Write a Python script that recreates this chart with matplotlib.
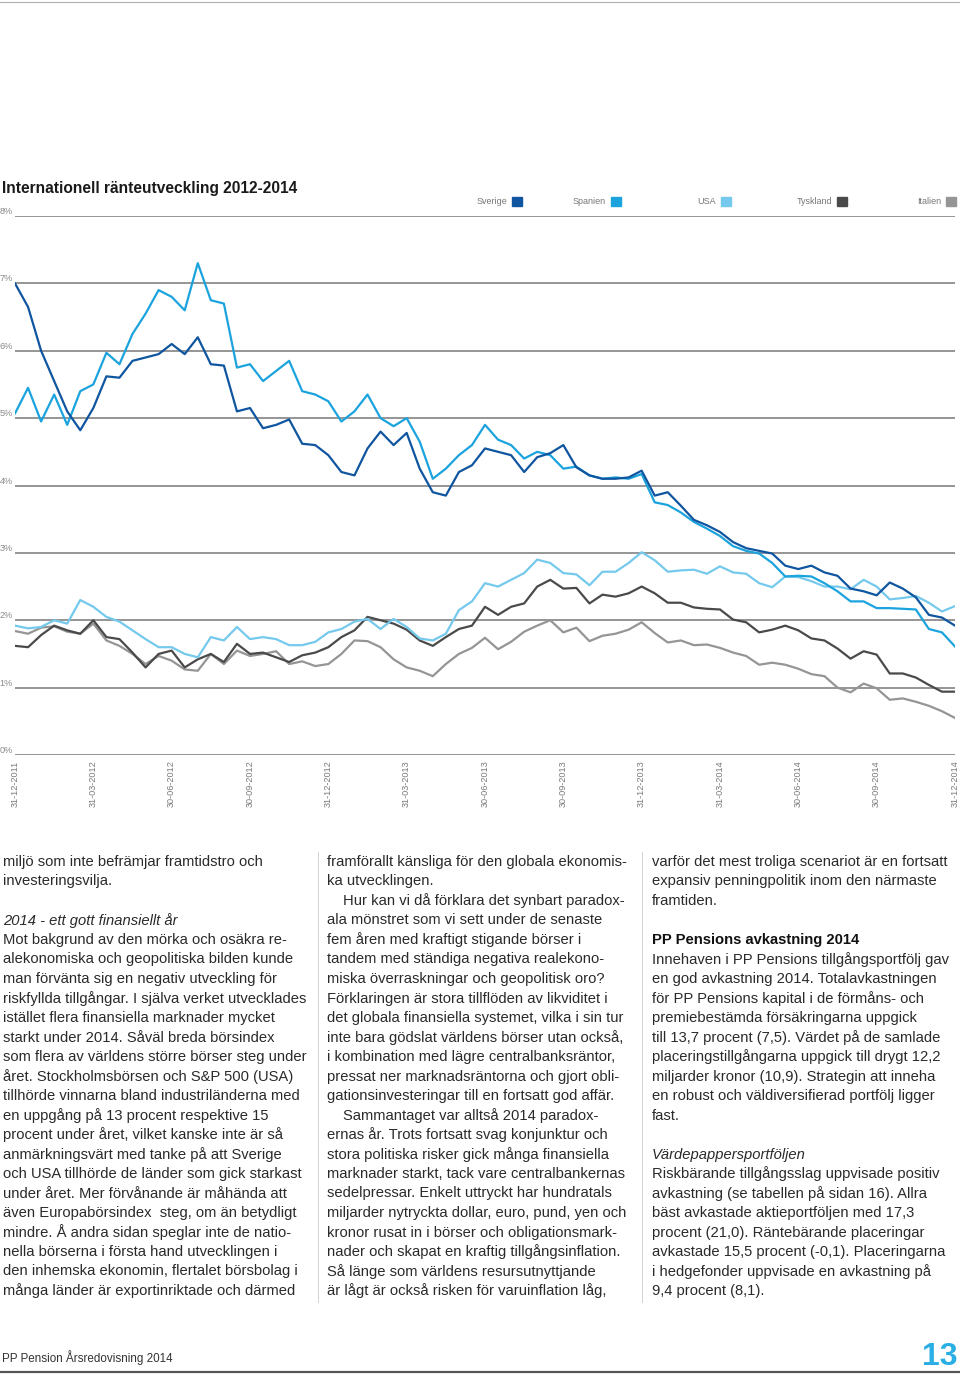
import numpy as np
import matplotlib
matplotlib.use('Agg')
import matplotlib.pyplot as plt
from matplotlib.patches import Rectangle
from matplotlib.lines import Line2D

W, H = 960, 1375

title = 'Internationell ränteutveckling 2012-2014'
names = ['Sverige', 'Spanien', 'USA', 'Tyskland', 'Italien']
colors = ['#0f559f', '#1ba3de', '#74c9ec', '#4a4a4a', '#959595']
quarter_labels = ['31-12-2011', '31-03-2012', '30-06-2012', '30-09-2012', '31-12-2012',
                  '31-03-2013', '30-06-2013', '30-09-2013', '31-12-2013', '31-03-2014',
                  '30-06-2014', '30-09-2014', '31-12-2014']
y_labels = ['0%', '1%', '2%', '3%', '4%', '5%', '6%', '7%', '8%']

# half-month steps from 31-12-2011 to 31-12-2014
months = np.arange(73) * 0.5

sverige = [7.0, 6.65, 6.0, 5.55, 5.1, 4.82, 5.15, 5.62, 5.6, 5.85, 5.9, 5.95,
           6.1, 5.95, 6.2, 5.8, 5.78, 5.1, 5.15, 4.85, 4.9, 4.98, 4.62, 4.6,
           4.45, 4.2, 4.15, 4.55, 4.8, 4.6, 4.78, 4.25, 3.9, 3.85, 4.2, 4.3,
           4.55, 4.5, 4.45, 4.2, 4.42, 4.48, 4.6, 4.27, 4.15, 4.1, 4.1, 4.12,
           4.22, 3.85, 3.9, 3.7, 3.49, 3.41, 3.31, 3.16, 3.07, 3.03, 2.99, 2.81,
           2.76, 2.81, 2.71, 2.66, 2.47, 2.43, 2.37, 2.56, 2.47, 2.34, 2.08, 2.04,
           1.92]
spanien = [5.07, 5.45, 4.95, 5.35, 4.9, 5.4, 5.5, 5.97, 5.8, 6.25, 6.55, 6.9,
           6.8, 6.6, 7.3, 6.75, 6.7, 5.75, 5.8, 5.55, 5.7, 5.85, 5.4, 5.35,
           5.25, 4.95, 5.1, 5.35, 5.0, 4.88, 5.0, 4.65, 4.1, 4.25, 4.45, 4.6,
           4.9, 4.68, 4.6, 4.4, 4.5, 4.45, 4.25, 4.28, 4.15, 4.1, 4.12, 4.1,
           4.17, 3.75, 3.71, 3.6, 3.46, 3.36, 3.25, 3.1, 3.03, 2.99, 2.85, 2.65,
           2.66, 2.65, 2.55, 2.43, 2.28, 2.28, 2.18, 2.18, 2.17, 2.16, 1.87, 1.82,
           1.61]
usa = [1.92, 1.88, 1.9, 2.0, 1.95, 2.3, 2.2, 2.05, 1.98, 1.85, 1.72, 1.6,
       1.6, 1.5, 1.45, 1.75, 1.7, 1.9, 1.72, 1.75, 1.72, 1.63, 1.63, 1.68,
       1.82, 1.87, 1.98, 2.02, 1.87, 2.02, 1.9, 1.73, 1.7, 1.8, 2.15, 2.28,
       2.55, 2.5, 2.6, 2.7, 2.9, 2.85, 2.7, 2.68, 2.52, 2.72, 2.72, 2.85,
       3.01, 2.89, 2.72, 2.74, 2.75, 2.69, 2.8, 2.71, 2.69, 2.55, 2.49, 2.65,
       2.64, 2.58, 2.5, 2.5, 2.46, 2.6, 2.5, 2.31, 2.33, 2.36, 2.26, 2.13,
       2.21]
tyskland = [1.62, 1.6, 1.78, 1.92, 1.85, 1.8, 2.0, 1.75, 1.72, 1.52, 1.3, 1.5,
            1.55, 1.3, 1.42, 1.5, 1.38, 1.65, 1.5, 1.52, 1.45, 1.38, 1.48, 1.52,
            1.6, 1.75, 1.85, 2.05, 2.0, 1.95, 1.86, 1.7, 1.62, 1.75, 1.87, 1.92,
            2.2, 2.08, 2.2, 2.25, 2.5, 2.6, 2.47, 2.48, 2.25, 2.38, 2.35, 2.4,
            2.5, 2.4, 2.26, 2.26, 2.19, 2.17, 2.16, 2.01, 1.97, 1.82, 1.86, 1.92,
            1.85, 1.73, 1.7, 1.58, 1.43, 1.54, 1.49, 1.21, 1.21, 1.15, 1.04, 0.94,
            0.94]
italien = [1.84, 1.8, 1.89, 1.91, 1.83, 1.8, 1.95, 1.7, 1.62, 1.5, 1.35, 1.47,
           1.4, 1.27, 1.25, 1.5, 1.35, 1.55, 1.47, 1.5, 1.54, 1.35, 1.39, 1.32,
           1.35, 1.5, 1.7, 1.69, 1.6, 1.42, 1.3, 1.25, 1.17, 1.35, 1.5, 1.59,
           1.74, 1.57, 1.68, 1.83, 1.92, 2.0, 1.82, 1.89, 1.69, 1.77, 1.8, 1.86,
           1.97, 1.81, 1.67, 1.7, 1.63, 1.64, 1.59, 1.52, 1.47, 1.34, 1.37, 1.34,
           1.28, 1.2, 1.17, 1.0, 0.93, 1.06, 0.99, 0.82, 0.84, 0.79, 0.73, 0.65,
           0.55]
series = [sverige, spanien, usa, tyskland, italien]

col1 = [
    ('miljö som inte befrämjar framtidstro och', ''),
    ('investeringsvilja.', ''),
    ('', ''),
    ('2014 - ett gott finansiellt år', 'i'),
    ('Mot bakgrund av den mörka och osäkra re-', ''),
    ('alekonomiska och geopolitiska bilden kunde', ''),
    ('man förvänta sig en negativ utveckling för', ''),
    ('riskfyllda tillgångar. I själva verket utvecklades', ''),
    ('istället flera finansiella marknader mycket', ''),
    ('starkt under 2014. Såväl breda börsindex', ''),
    ('som flera av världens större börser steg under', ''),
    ('året. Stockholmsbörsen och S&P 500 (USA)', ''),
    ('tillhörde vinnarna bland industriländerna med', ''),
    ('en uppgång på 13 procent respektive 15', ''),
    ('procent under året, vilket kanske inte är så', ''),
    ('anmärkningsvärt med tanke på att Sverige', ''),
    ('och USA tillhörde de länder som gick starkast', ''),
    ('under året. Mer förvånande är måhända att', ''),
    ('även Europabörsindex  steg, om än betydligt', ''),
    ('mindre. Å andra sidan speglar inte de natio-', ''),
    ('nella börserna i första hand utvecklingen i', ''),
    ('den inhemska ekonomin, flertalet börsbolag i', ''),
    ('många länder är exportinriktade och därmed', ''),
]
col2 = [
    ('framförallt känsliga för den globala ekonomis-', ''),
    ('ka utvecklingen.', ''),
    ('Hur kan vi då förklara det synbart paradox-', 'n'),
    ('ala mönstret som vi sett under de senaste', ''),
    ('fem åren med kraftigt stigande börser i', ''),
    ('tandem med ständiga negativa realekono-', ''),
    ('miska överraskningar och geopolitisk oro?', ''),
    ('Förklaringen är stora tillflöden av likviditet i', ''),
    ('det globala finansiella systemet, vilka i sin tur', ''),
    ('inte bara gödslat världens börser utan också,', ''),
    ('i kombination med lägre centralbanksräntor,', ''),
    ('pressat ner marknadsräntorna och gjort obli-', ''),
    ('gationsinvesteringar till en fortsatt god affär.', ''),
    ('Sammantaget var alltså 2014 paradox-', 'n'),
    ('ernas år. Trots fortsatt svag konjunktur och', ''),
    ('stora politiska risker gick många finansiella', ''),
    ('marknader starkt, tack vare centralbankernas', ''),
    ('sedelpressar. Enkelt uttryckt har hundratals', ''),
    ('miljarder nytryckta dollar, euro, pund, yen och', ''),
    ('kronor rusat in i börser och obligationsmark-', ''),
    ('nader och skapat en kraftig tillgångsinflation.', ''),
    ('Så länge som världens resursutnyttjande', ''),
    ('är lågt är också risken för varuinflation låg,', ''),
]
col3 = [
    ('varför det mest troliga scenariot är en fortsatt', ''),
    ('expansiv penningpolitik inom den närmaste', ''),
    ('framtiden.', ''),
    ('', ''),
    ('PP Pensions avkastning 2014', 'b'),
    ('Innehaven i PP Pensions tillgångsportfölj gav', ''),
    ('en god avkastning 2014. Totalavkastningen', ''),
    ('för PP Pensions kapital i de förmåns- och', ''),
    ('premiebestämda försäkringarna uppgick', ''),
    ('till 13,7 procent (7,5). Värdet på de samlade', ''),
    ('placeringstillgångarna uppgick till drygt 12,2', ''),
    ('miljarder kronor (10,9). Strategin att inneha', ''),
    ('en robust och väldiversifierad portfölj ligger', ''),
    ('fast.', ''),
    ('', ''),
    ('Värdepappersportföljen', 'i'),
    ('Riskbärande tillgångsslag uppvisade positiv', ''),
    ('avkastning (se tabellen på sidan 16). Allra', ''),
    ('bäst avkastade aktieportföljen med 17,3', ''),
    ('procent (21,0). Räntebärande placeringar', ''),
    ('avkastade 15,5 procent (-0,1). Placeringarna', ''),
    ('i hedgefonder uppvisade en avkastning på', ''),
    ('9,4 procent (8,1).', ''),
]

plt.rcParams['font.family'] = ['Liberation Sans', 'DejaVu Sans']

fig = plt.figure(figsize=(W / 100, H / 100), dpi=100)


def fx(px):
    return px / W


def fy(py):
    return 1 - py / H


# chart
ax = fig.add_axes([fx(15), fy(755), fx(940), (755 - 216) / H])
ax.set_xlim(0, 36)
ax.set_ylim(0, 8)
for s in ax.spines.values():
    s.set_visible(False)
ax.set_yticks(range(9))
ax.set_yticklabels([])
ax.tick_params(length=0)
ax.grid(axis='y', color='#8c8c8c', lw=1.3)
ax.set_axisbelow(True)
ax.set_xticks(np.arange(0, 37, 3))
ax.set_xticklabels(quarter_labels, rotation=90, fontsize=6.6, color='#7a7a7a',
                   va='top', ha='center')
ax.tick_params(axis='x', pad=4)

for i, lab in enumerate(y_labels):
    ax.text(-0.002, i, lab, transform=ax.get_yaxis_transform(), ha='right',
            va='bottom', fontsize=6.6, color='#8a8a8a')

for k in [4, 3, 2, 1, 0]:
    ax.plot(months, series[k], color=colors[k], lw=1.6, solid_joinstyle='round')

# title and legend
fig.text(fx(2), fy(188), title, fontsize=11.2, fontweight='bold', color='#1a1a1a',
         va='center', ha='left')
square_right = [522, 621, 731, 847, 956]
for name, col, xr in zip(names, colors, square_right):
    fig.patches.append(Rectangle((fx(xr - 10), fy(206)), 10 / W, 9 / H,
                                 transform=fig.transFigure, color=col))
    fig.text(fx(xr - 15), fy(202), name, fontsize=6.5, color='#777777',
             ha='right', va='center')

# top rule
fig.add_artist(Line2D([0, 1], [fy(2), fy(2)], color='#b0b0b0', lw=0.8))

# body text
body_size = 10.6
col_x = [3, 327, 652]
for cx, col in zip(col_x, [col1, col2, col3]):
    for j, (line, st) in enumerate(col):
        if not line:
            continue
        y = 862 + j * 19.5
        kw = dict(fontsize=body_size, color='#2a2a2a', va='center', ha='left')
        x = cx
        if st == 'i':
            kw['style'] = 'italic'
        elif st == 'b':
            kw['fontweight'] = 'bold'
            kw['color'] = '#111111'
        elif st == 'n':
            x = cx + 16
        fig.text(fx(x), fy(y), line, **kw)

# column separators
for sx in [318, 642]:
    fig.add_artist(Line2D([fx(sx), fx(sx)], [fy(852), fy(1302)], color='#d2d2d2', lw=0.7))

# footer
fig.text(fx(2), fy(1358), 'PP Pension Årsredovisning 2014', fontsize=8.4,
         color='#333333', va='center', ha='left')
fig.text(fx(957), fy(1365), '13', fontsize=23, fontweight='bold', color='#2aaee4',
         va='baseline', ha='right')
fig.add_artist(Line2D([0, 1], [fy(1372), fy(1372)], color='#555555', lw=1.6))

fig.savefig('out.png', dpi=100)
